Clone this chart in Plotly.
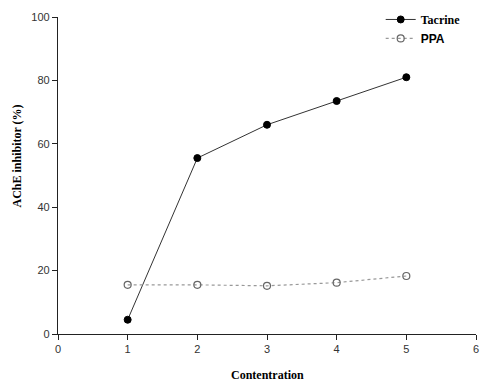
import plotly.graph_objects as go

concentration = [1, 2, 3, 4, 5]
tacrine = [4.5, 55.5, 66.0, 73.5, 81.0]
ppa = [15.5, 15.5, 15.2, 16.2, 18.3]

fig = go.Figure()
fig.add_trace(go.Scatter(
    x=concentration, y=tacrine,
    name='<span style="font-family:Liberation Serif"><b>Tacrine</b></span>',
    mode="lines+markers",
    line=dict(color="#333333", width=1),
    marker=dict(symbol="circle", size=7, color="black", line=dict(color="black", width=1)),
))
fig.add_trace(go.Scatter(
    x=concentration, y=ppa,
    name='<span style="font-family:Liberation Sans"><b>PPA</b></span>',
    mode="lines+markers",
    line=dict(color="#999999", width=1.2, dash="dot"),
    marker=dict(symbol="circle-open", size=7, color="#666666", line=dict(width=1.2)),
))

fig.update_layout(
    template="none",
    width=481, height=383,
    margin=dict(l=58, r=5, t=15, b=49),
    paper_bgcolor="white", plot_bgcolor="white",
    showlegend=True,
    legend=dict(x=0.772, y=1.038, xanchor="left", yanchor="top",
                font=dict(family="Liberation Serif", size=12, color="black"),
                bgcolor="rgba(0,0,0,0)", tracegroupgap=0, itemwidth=30),
    font=dict(family="Liberation Sans", size=11, color="#333333"),
)
fig.update_xaxes(
    range=[0, 6], tickvals=[0, 1, 2, 3, 4, 5, 6], showgrid=False, zeroline=False,
    showline=True, linecolor="#222222", linewidth=1.2, automargin=False,
    ticks="outside", ticklen=5, tickcolor="#222222",
    tickfont=dict(family="Liberation Sans", size=11, color="#333333"),
)
fig.update_yaxes(
    range=[0, 100], tickvals=[0, 20, 40, 60, 80, 100], showgrid=False, zeroline=False,
    showline=True, linecolor="#222222", linewidth=1.2, automargin=False,
    ticks="outside", ticklen=5, tickcolor="#222222",
    tickfont=dict(family="Liberation Sans", size=11, color="#333333"),
)
fig.add_annotation(
    text="<b>AChE inhibitor (%)</b>", xref="paper", yref="paper",
    x=-0.098, y=0.56, textangle=-90, showarrow=False,
    xanchor="center", yanchor="middle",
    font=dict(family="Liberation Serif", size=12, color="black"),
)
fig.add_annotation(
    text="<b>Contentration</b>", xref="paper", yref="paper",
    x=0.5, y=-0.128, showarrow=False,
    xanchor="center", yanchor="middle",
    font=dict(family="Liberation Serif", size=12, color="black"),
)
fig.write_html("out.html", config={"displayModeBar": False},
               post_script="document.body.style.margin='0';document.body.style.overflow='hidden';")
